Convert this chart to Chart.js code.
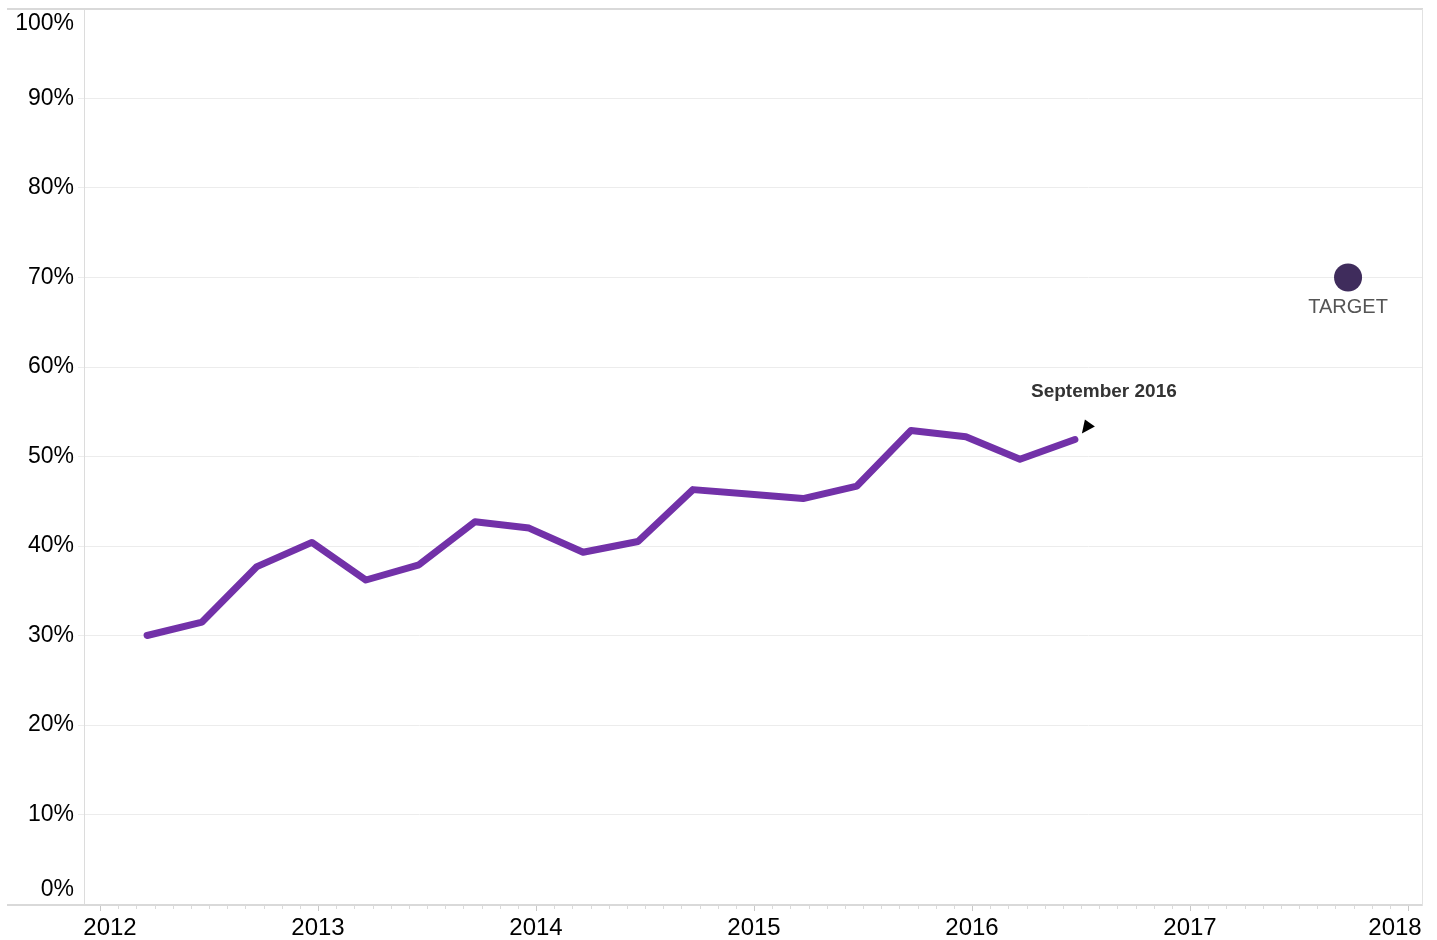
<!DOCTYPE html>
<html>
<head>
<meta charset="utf-8">
<script src="https://cdn.jsdelivr.net/npm/chart.js@4.4.1/dist/chart.umd.min.js"></script>
<style>
  html, body { margin: 0; padding: 0; background: #fff; }
  #wrap { width: 1437px; height: 940px; }
</style>
</head>
<body>
<div id="wrap"><canvas id="chart" width="1437" height="940"></canvas></div>
<script>
// Quarterly rolling figures, position in decimal years
const periods = [2012.216, 2012.468, 2012.720, 2012.972, 2013.220, 2013.463,
                 2013.720, 2013.968, 2014.216, 2014.468, 2014.720, 2014.972,
                 2015.225, 2015.472, 2015.720, 2015.972, 2016.220, 2016.472];
const rates = [30.0, 31.5, 37.7, 40.4, 36.2, 37.9, 42.7, 42.0, 39.3, 40.5,
               46.3, 45.8, 45.3, 46.7, 52.9, 52.2, 49.7, 51.9];
const targetPeriod = [2017.725];
const targetRate = [70];
const yearTicks = [2012, 2013, 2014, 2015, 2016, 2017, 2018];
const latestLabel = 'September 2016';
const targetLabel = 'TARGET';

const FONT = "'Liberation Sans', Arial, sans-serif";

// nudge edge labels the way the original clips them
const edgeLabels = {
    id: 'edgeLabels',
    beforeDraw(chart) {
        chart.scales.y.getLabelItems().forEach(it => {
            if (it.label === '100%') it.options.translation[1] = 24;
            if (it.label === '0%') it.options.translation[1] = 890;
        });
        chart.scales.x.getLabelItems().forEach(it => {
            if (it.label === '2012') it.options.translation[0] += 10;
            if (it.label === '2018') it.options.translation[0] -= 13;
        });
    }
};

const frame = {
    id: 'frame',
    beforeDatasetsDraw(chart) {
        const { ctx, chartArea: a } = chart;
        const xs = chart.scales.x;
        ctx.save();
        ctx.strokeStyle = '#d9d9d9';
        ctx.lineWidth = 2;
        ctx.beginPath();
        ctx.moveTo(7, a.top); ctx.lineTo(a.right, a.top);
        ctx.moveTo(7, a.bottom + 1); ctx.lineTo(a.right, a.bottom + 1);
        ctx.stroke();
        ctx.lineWidth = 1;
        ctx.strokeStyle = '#e2e2e2';
        ctx.beginPath();
        ctx.moveTo(a.right - 0.5, a.top); ctx.lineTo(a.right - 0.5, a.bottom + 2);
        ctx.stroke();
        // monthly minor ticks
        ctx.strokeStyle = '#dadada';
        ctx.beginPath();
        for (let yr = 2011; yr <= 2018; yr++) {
            for (let m = 1; m < 12; m++) {
                const v = yr + m / 12;
                if (v < xs.min || v > xs.max) continue;
                const px = Math.round(xs.getPixelForValue(v)) + 0.5;
                ctx.moveTo(px, a.bottom + 2); ctx.lineTo(px, a.bottom + 5);
            }
        }
        ctx.stroke();
        ctx.restore();
    }
};

const notes = {
    id: 'notes',
    afterDatasetsDraw(chart) {
        const { ctx } = chart;
        const last = chart.getDatasetMeta(0).data[rates.length - 1];
        const tgt = chart.getDatasetMeta(1).data[0];
        ctx.save();
        ctx.textAlign = 'center';
        ctx.textBaseline = 'middle';
        ctx.fillStyle = '#333';
        ctx.font = 'bold 19px ' + FONT;
        ctx.fillText(latestLabel, last.x + 29, last.y - 48);
        ctx.fillStyle = '#000';
        ctx.beginPath();
        ctx.moveTo(last.x + 10, last.y - 20);
        ctx.lineTo(last.x + 20, last.y - 13);
        ctx.lineTo(last.x + 7, last.y - 6);
        ctx.closePath();
        ctx.fill();
        ctx.fillStyle = '#555';
        ctx.font = '20px ' + FONT;
        ctx.fillText(targetLabel, tgt.x, tgt.y + 30);
        ctx.restore();
    }
};

new Chart(document.getElementById('chart'), {
    type: 'line',
    data: {
        datasets: [{
            data: periods.map((p, i) => ({ x: p, y: rates[i] })),
            borderColor: '#7231a8',
            borderWidth: 7,
            borderCapStyle: 'round',
            borderJoinStyle: 'round',
            pointRadius: 0,
            tension: 0
        }, {
            data: targetPeriod.map((p, i) => ({ x: p, y: targetRate[i] })),
            showLine: false,
            pointRadius: 14,
            pointBackgroundColor: '#3f2c5c',
            pointBorderWidth: 0
        }]
    },
    options: {
        responsive: false,
        animation: false,
        devicePixelRatio: 1,
        layout: { autoPadding: false, padding: { top: 9, right: 14, left: 0, bottom: 0 } },
        plugins: { legend: { display: false }, tooltip: { enabled: false } },
        scales: {
            x: {
                type: 'linear',
                min: 2011.9266,
                max: 2018.0688,
                afterBuildTicks: s => { s.ticks = yearTicks.map(v => ({ value: v })); },
                afterFit: s => { s.height = 36; s.paddingLeft = 0; s.paddingRight = 0; },
                grid: { drawOnChartArea: false, tickLength: 7, color: '#c8c8c8' },
                border: { display: false },
                ticks: {
                    autoSkip: false,
                    maxRotation: 0,
                    padding: 3,
                    color: '#000',
                    font: { family: FONT, size: 24 },
                    callback: v => String(v)
                }
            },
            y: {
                min: 0,
                max: 100,
                afterFit: s => { s.width = 84; s.paddingTop = 0; s.paddingBottom = 0; },
                border: { color: '#dcdcdc' },
                grid: {
                    tickLength: 6,
                    color: c => c.tick && c.tick.value === 100 ? 'rgba(0,0,0,0)' : '#ececec'
                },
                ticks: {
                    stepSize: 10,
                    padding: 4,
                    color: '#000',
                    font: { family: FONT, size: 23 },
                    callback: v => v + '%'
                }
            }
        }
    },
    plugins: [edgeLabels, frame, notes]
});
</script>
</body>
</html>
